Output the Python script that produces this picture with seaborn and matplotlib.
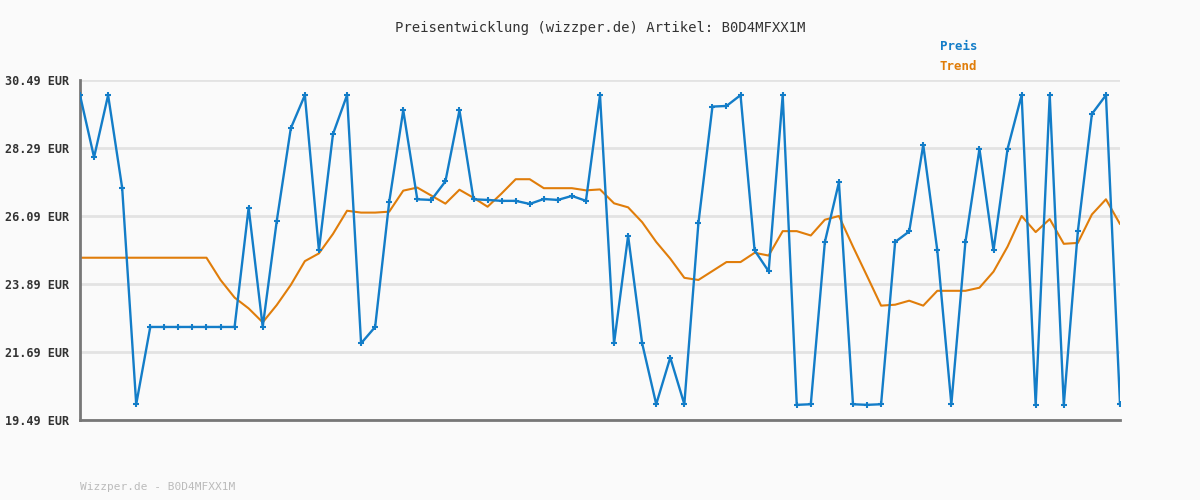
"""
Preisentwicklung B0D4MFXX1M - Nachbau des wizzper.de Preisdiagramms
"""

import numpy as np
import pandas as pd
import matplotlib
matplotlib.use('Agg')
import matplotlib.pyplot as plt
import seaborn as sns

# Preise (EUR)
preis = [30.00, 27.99, 30.00, 27.00, 20.00, 22.50, 22.50, 22.50, 22.50, 22.50,
         22.50, 22.50, 26.36, 22.50, 25.93, 28.93, 30.00, 24.98, 28.74, 30.00,
         21.97, 22.50, 26.54, 29.51, 26.63, 26.61, 27.21, 29.51, 26.63, 26.61,
         26.58, 26.58, 26.48, 26.64, 26.61, 26.74, 26.58, 30.00, 21.97, 25.45,
         21.97, 20.00, 21.51, 20.00, 25.85, 29.63, 29.65, 30.00, 24.98, 24.30,
         30.00, 19.98, 20.00, 25.25, 27.18, 20.00, 19.98, 20.00, 25.25, 25.59,
         28.39, 24.98, 20.00, 25.25, 28.26, 24.98, 28.26, 30.00, 19.98, 30.00,
         19.98, 25.59, 29.39, 30.00, 20.00]

# Trendlinie
trend = [24.74, 24.74, 24.74, 24.74, 24.74, 24.74, 24.74, 24.74, 24.74, 24.74,
         24.02, 23.45, 23.10, 22.65, 23.21, 23.86, 24.63, 24.88, 25.51, 26.26,
         26.20, 26.20, 26.23, 26.91, 27.01, 26.75, 26.49, 26.94, 26.68, 26.39,
         26.82, 27.28, 27.28, 26.99, 26.99, 26.99, 26.92, 26.95, 26.50, 26.37,
         25.89, 25.25, 24.71, 24.09, 24.02, 24.31, 24.60, 24.60, 24.90, 24.81,
         25.60, 25.60, 25.46, 25.97, 26.09, 25.10, 24.15, 23.19, 23.22, 23.35,
         23.19, 23.67, 23.67, 23.67, 23.77, 24.29, 25.10, 26.09, 25.57, 25.99,
         25.19, 25.22, 26.14, 26.63, 25.83]

y_ticks = [19.49, 21.69, 23.89, 26.09, 28.29, 30.49]
artikel = "B0D4MFXX1M"

BLAU = '#137dc8'
ORANGE = '#e07d0a'
BG = '#fafafa'

df = pd.DataFrame({'idx': np.arange(len(preis)), 'Preis': preis, 'Trend': trend})

sns.set_style('white')
plt.rcParams['font.family'] = ['DejaVu Sans Mono', 'DejaVu Sans']

fig = plt.figure(figsize=(12, 5), dpi=100, facecolor=BG)
ax = fig.add_axes([80 / 1200, 80 / 500, 1040 / 1200, 340 / 500])
ax.set_facecolor(BG)

# Gitterlinien
for t in y_ticks:
    ax.axhline(t, color='#e3e3e3', linewidth=2, zorder=0)

sns.lineplot(data=df, x='idx', y='Trend', color=ORANGE, linewidth=1.5, ax=ax, zorder=2)
sns.lineplot(data=df, x='idx', y='Preis', color=BLAU, linewidth=1.7, marker='+',
             markersize=5, markeredgewidth=1.5, markeredgecolor=BLAU, ax=ax, zorder=3)

ax.set_xlim(0, len(preis) - 1)
ax.set_ylim(y_ticks[0], y_ticks[-1])
ax.set_xticks([])
ax.set_yticks(y_ticks)
ax.set_yticklabels([f'{t:.2f} EUR' for t in y_ticks], fontsize=8.5, fontweight='bold', color='#333333')
ax.tick_params(axis='y', length=0, pad=8)
ax.set_xlabel('')
ax.set_ylabel('')

for s in ['top', 'right']:
    ax.spines[s].set_visible(False)
for s in ['left', 'bottom']:
    ax.spines[s].set_color('#777777')
    ax.spines[s].set_linewidth(2)

# Titel, Legende, Fußzeile
fig.text(0.5, 1 - 28 / 500, f'Preisentwicklung (wizzper.de) Artikel: {artikel}',
         ha='center', va='center', fontsize=10, color='#333333')
fig.text(940 / 1200, 1 - 47 / 500, 'Preis', ha='left', va='center', fontsize=9,
         fontweight='bold', color=BLAU)
fig.text(940 / 1200, 1 - 67 / 500, 'Trend', ha='left', va='center', fontsize=9,
         fontweight='bold', color=ORANGE)
fig.text(80 / 1200, 1 - 487 / 500, f'Wizzper.de - {artikel}', ha='left', va='center',
         fontsize=8, color='#bbbbbb')

plt.savefig('out.png', dpi=100, facecolor=BG)
plt.close()
